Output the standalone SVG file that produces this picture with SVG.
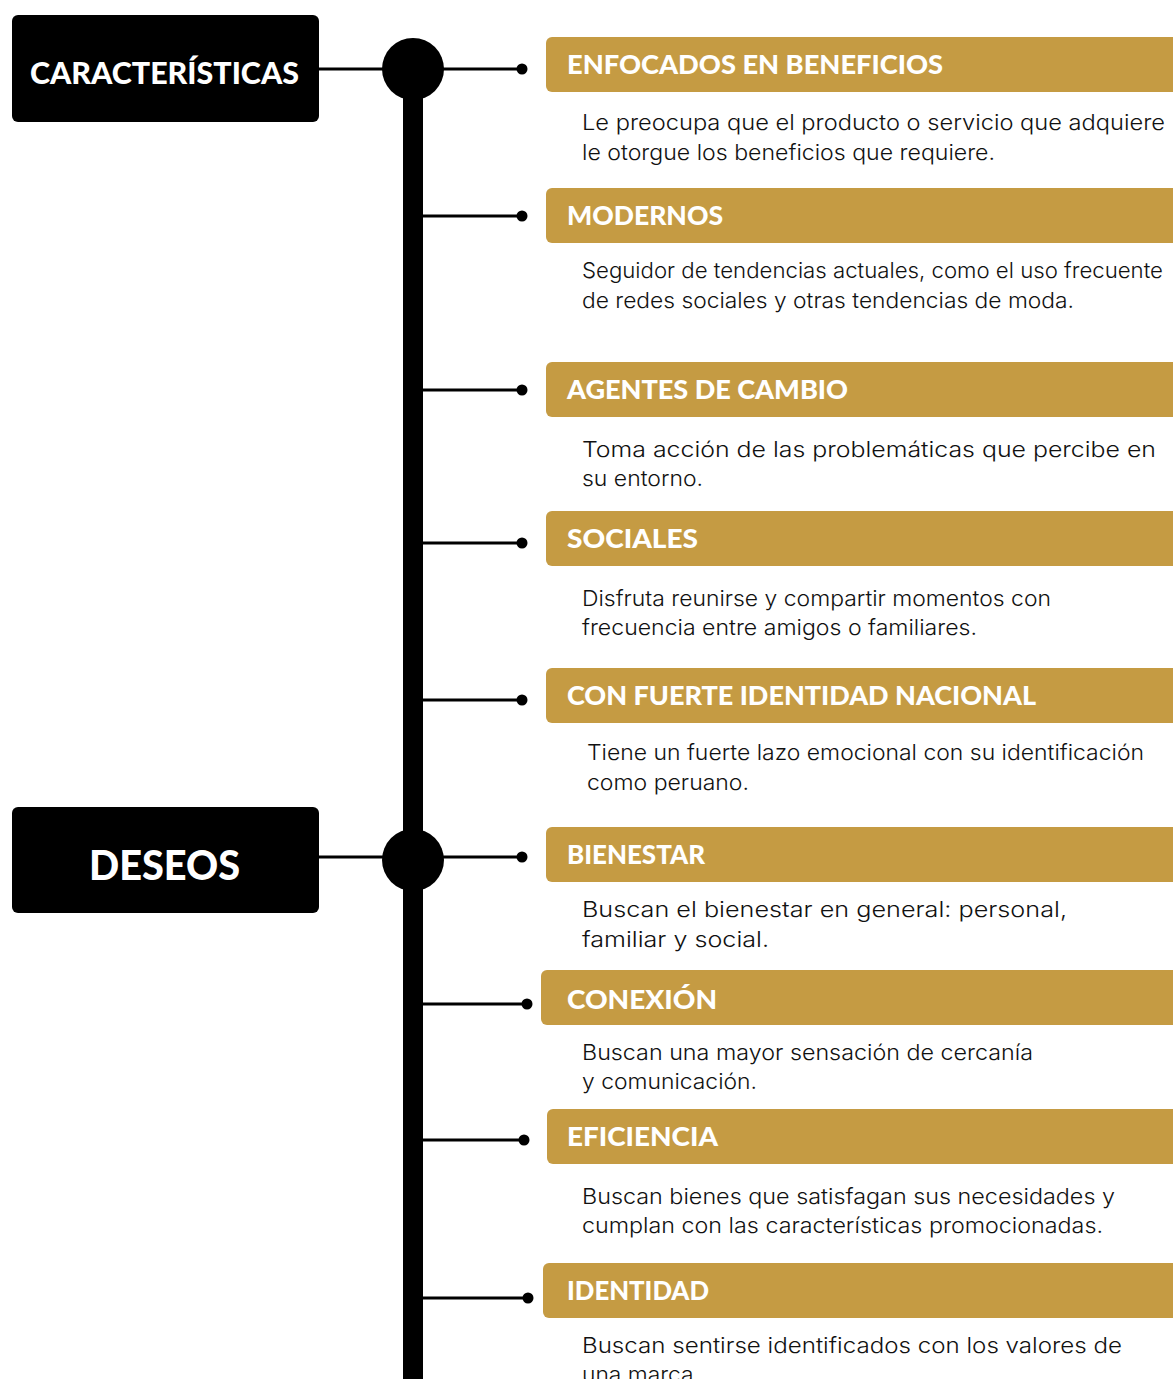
<svg xmlns="http://www.w3.org/2000/svg" width="1173" height="1379" viewBox="0 0 1173 1379">
<style>
.bar{fill:#C59B43}
.hd{font-family:Lato,"Liberation Sans",Arial,sans-serif;font-weight:900;font-size:27px;fill:#fff}
.tt{font-family:Lato,"Liberation Sans",Arial,sans-serif;font-weight:900;fill:#fff}
.tx{font-family:Inter,"Liberation Sans",Arial,sans-serif;font-weight:300;font-size:22px;fill:#111}
.ln{stroke:#000;stroke-width:3;fill:none}
.dot{fill:#000}
</style>
<rect width="1173" height="1379" fill="#fff"/>
<g id="connectors">
<rect x="403" y="69" width="20" height="1320" fill="#000"/>
<line class="ln" x1="319" y1="69" x2="522" y2="69"/>
<line class="ln" x1="319" y1="857" x2="522" y2="857"/>
<line class="ln" x1="423" y1="216" x2="522" y2="216"/>
<line class="ln" x1="423" y1="390" x2="522" y2="390"/>
<line class="ln" x1="423" y1="543" x2="522" y2="543"/>
<line class="ln" x1="423" y1="700" x2="522" y2="700"/>
<line class="ln" x1="423" y1="1004" x2="527" y2="1004"/>
<line class="ln" x1="423" y1="1140" x2="524" y2="1140"/>
<line class="ln" x1="423" y1="1298" x2="528" y2="1298"/>
<circle cx="413" cy="69" r="31" fill="#000"/>
<circle cx="413" cy="860" r="31" fill="#000"/>
<circle class="dot" cx="522" cy="69" r="5.5"/>
<circle class="dot" cx="522" cy="216" r="5.5"/>
<circle class="dot" cx="522" cy="390" r="5.5"/>
<circle class="dot" cx="522" cy="543" r="5.5"/>
<circle class="dot" cx="522" cy="700" r="5.5"/>
<circle class="dot" cx="522" cy="857" r="5.5"/>
<circle class="dot" cx="527" cy="1004" r="5.5"/>
<circle class="dot" cx="524" cy="1140" r="5.5"/>
<circle class="dot" cx="528" cy="1298" r="5.5"/>
</g>
<g id="caracteristicas">
<rect x="12" y="15" width="307" height="107" rx="6" fill="#000"/>
<text class="tt" x="30" y="84" font-size="31" textLength="269" lengthAdjust="spacingAndGlyphs">CARACTERÍSTICAS</text>
</g>
<g id="deseos">
<rect x="12" y="807" width="307" height="106" rx="6" fill="#000"/>
<text class="tt" x="89" y="880" font-size="41" textLength="151" lengthAdjust="spacingAndGlyphs">DESEOS</text>
</g>
<g id="enfocados">
<rect class="bar" x="546" y="37" width="640" height="55" rx="6"/>
<text class="hd" x="567" y="74" textLength="376" lengthAdjust="spacingAndGlyphs">ENFOCADOS EN BENEFICIOS</text>
<text class="tx" x="582" y="130" textLength="583" lengthAdjust="spacingAndGlyphs">Le preocupa que el producto o servicio que adquiere</text>
<text class="tx" x="582" y="160" textLength="413" lengthAdjust="spacingAndGlyphs">le otorgue los beneficios que requiere.</text>
</g>
<g id="modernos">
<rect class="bar" x="546" y="188" width="640" height="55" rx="6"/>
<text class="hd" x="567" y="225" textLength="156" lengthAdjust="spacingAndGlyphs">MODERNOS</text>
<text class="tx" x="582" y="278" textLength="581" lengthAdjust="spacingAndGlyphs">Seguidor de tendencias actuales, como el uso frecuente</text>
<text class="tx" x="582" y="308" textLength="492" lengthAdjust="spacingAndGlyphs">de redes sociales y otras tendencias de moda.</text>
</g>
<g id="agentes">
<rect class="bar" x="546" y="362" width="640" height="55" rx="6"/>
<text class="hd" x="567" y="399" textLength="281" lengthAdjust="spacingAndGlyphs">AGENTES DE CAMBIO</text>
<text class="tx" x="582" y="457" textLength="574" lengthAdjust="spacingAndGlyphs">Toma acción de las problemáticas que percibe en</text>
<text class="tx" x="582" y="486" textLength="121" lengthAdjust="spacingAndGlyphs">su entorno.</text>
</g>
<g id="sociales">
<rect class="bar" x="546" y="511" width="640" height="55" rx="6"/>
<text class="hd" x="567" y="548" textLength="131" lengthAdjust="spacingAndGlyphs">SOCIALES</text>
<text class="tx" x="582" y="606" textLength="469" lengthAdjust="spacingAndGlyphs">Disfruta reunirse y compartir momentos con</text>
<text class="tx" x="582" y="635" textLength="395" lengthAdjust="spacingAndGlyphs">frecuencia entre amigos o familiares.</text>
</g>
<g id="identidad-nacional">
<rect class="bar" x="546" y="668" width="640" height="55" rx="6"/>
<text class="hd" x="567" y="705" textLength="469" lengthAdjust="spacingAndGlyphs">CON FUERTE IDENTIDAD NACIONAL</text>
<text class="tx" x="587" y="760" textLength="557" lengthAdjust="spacingAndGlyphs">Tiene un fuerte lazo emocional con su identificación</text>
<text class="tx" x="587" y="790" textLength="162" lengthAdjust="spacingAndGlyphs">como peruano.</text>
</g>
<g id="bienestar">
<rect class="bar" x="546" y="827" width="640" height="55" rx="6"/>
<text class="hd" x="567" y="864" textLength="138" lengthAdjust="spacingAndGlyphs">BIENESTAR</text>
<text class="tx" x="582" y="917" textLength="485" lengthAdjust="spacingAndGlyphs">Buscan el bienestar en general: personal,</text>
<text class="tx" x="582" y="947" textLength="187" lengthAdjust="spacingAndGlyphs">familiar y social.</text>
</g>
<g id="conexion">
<rect class="bar" x="541" y="970" width="645" height="55" rx="6"/>
<text class="hd" x="567" y="1009" textLength="150" lengthAdjust="spacingAndGlyphs">CONEXIÓN</text>
<text class="tx" x="582" y="1060" textLength="451" lengthAdjust="spacingAndGlyphs">Buscan una mayor sensación de cercanía</text>
<text class="tx" x="582" y="1089" textLength="175" lengthAdjust="spacingAndGlyphs">y comunicación.</text>
</g>
<g id="eficiencia">
<rect class="bar" x="547" y="1109" width="640" height="55" rx="6"/>
<text class="hd" x="567" y="1146" textLength="151" lengthAdjust="spacingAndGlyphs">EFICIENCIA</text>
<text class="tx" x="582" y="1204" textLength="533" lengthAdjust="spacingAndGlyphs">Buscan bienes que satisfagan sus necesidades y</text>
<text class="tx" x="582" y="1233" textLength="521" lengthAdjust="spacingAndGlyphs">cumplan con las características promocionadas.</text>
</g>
<g id="identidad">
<rect class="bar" x="543" y="1263" width="640" height="55" rx="6"/>
<text class="hd" x="567" y="1300" textLength="142" lengthAdjust="spacingAndGlyphs">IDENTIDAD</text>
<text class="tx" x="582" y="1353" textLength="540" lengthAdjust="spacingAndGlyphs">Buscan sentirse identificados con los valores de</text>
<text class="tx" x="582" y="1382" textLength="118" lengthAdjust="spacingAndGlyphs">una marca.</text>
</g>
</svg>
